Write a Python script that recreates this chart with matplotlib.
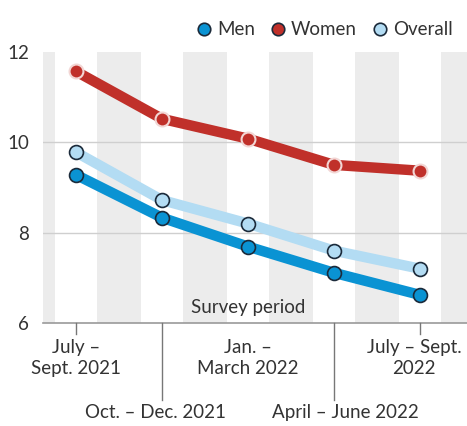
import matplotlib
matplotlib.use("Agg")
import matplotlib.pyplot as plt
import matplotlib.transforms as mtransforms
from matplotlib.lines import Line2D

# data
periods = ["July –\nSept. 2021", "Oct. – Dec. 2021", "Jan. –\nMarch 2022",
           "April – June 2022", "July – Sept.\n2022"]
men = [9.28, 8.33, 7.69, 7.11, 6.62]
women = [11.57, 10.52, 10.08, 9.5, 9.37]
overall = [9.78, 8.72, 8.2, 7.6, 7.2]
yticks = [6, 8, 10, 12]

plt.rcParams['font.family'] = ['Lato', 'DejaVu Sans']
fs = 13.5

c_men = '#0a93d3'
c_women = '#c0302a'
c_overall = '#b3dcf3'
c_edge = '#1b2a3a'
c_text = '#333333'

fig = plt.figure(figsize=(4.67, 4.26), dpi=100)
ax = fig.add_axes([0.092, 0.242, 0.908, 0.636])

x = list(range(len(periods)))
ax.set_xlim(-0.384, 4.547)
ax.set_ylim(6, 12)

# background stripes between periods
for k in range(-1, len(periods)):
    ax.axvspan(k + 0.5 - 0.26, k + 0.5 + 0.26, color='#ececec', lw=0, zorder=0)

for v in [8, 10]:
    ax.axhline(v, color='#cfcfcf', lw=1, zorder=1)
ax.axhline(6, color='#9a9a9a', lw=1.2, zorder=1, clip_on=False)

for ys, col in [(women, c_women), (overall, c_overall), (men, c_men)]:
    ax.plot(x, ys, color=col, lw=7.5, solid_capstyle='butt', zorder=3)
    ax.plot(x, ys, 'o', color=col, ms=10, mec=c_edge if col != c_women else '#f2d6d4',
            mew=1.2 if col != c_women else 1.5, zorder=4)

for s in ax.spines.values():
    s.set_visible(False)
ax.set_xticks([])
ax.set_yticks(yticks)
ax.set_yticklabels([str(v) for v in yticks], fontsize=fs, color=c_text)
ax.tick_params(axis='y', length=0, pad=10)

# x-axis labels with ticks
trans = mtransforms.blended_transform_factory(ax.transData, ax.transAxes)
tick_len = [-0.04, -0.285, 0, -0.285, -0.04]
label_y = [-0.06, -0.30, -0.06, -0.30, -0.06]
label_dx = [0, -0.07, 0, 0.13, -0.07]
for i, lab in enumerate(periods):
    if tick_len[i] != 0:
        ax.add_line(Line2D([i, i], [0, tick_len[i]], transform=trans, color='#777777',
                           lw=1, clip_on=False))
    ax.text(i + label_dx[i], label_y[i], lab, transform=trans, ha='center', va='top',
            fontsize=fs, color=c_text, linespacing=1.25)

ax.text(2, 0.025, "Survey period", transform=trans, ha='center', va='bottom',
        fontsize=fs, color=c_text)

handles = [Line2D([], [], marker='o', ls='none', color=c, mec=c_edge, mew=1.2, ms=9)
           for c in (c_men, c_women, c_overall)]
fig.legend(handles, ["Men", "Women", "Overall"], loc='upper right',
           bbox_to_anchor=(1.005, 0.99), ncol=3, frameon=False, fontsize=fs,
           handlelength=0.8, handletextpad=0.3, columnspacing=0.8, labelcolor=c_text)

fig.savefig("out.png", dpi=100)
